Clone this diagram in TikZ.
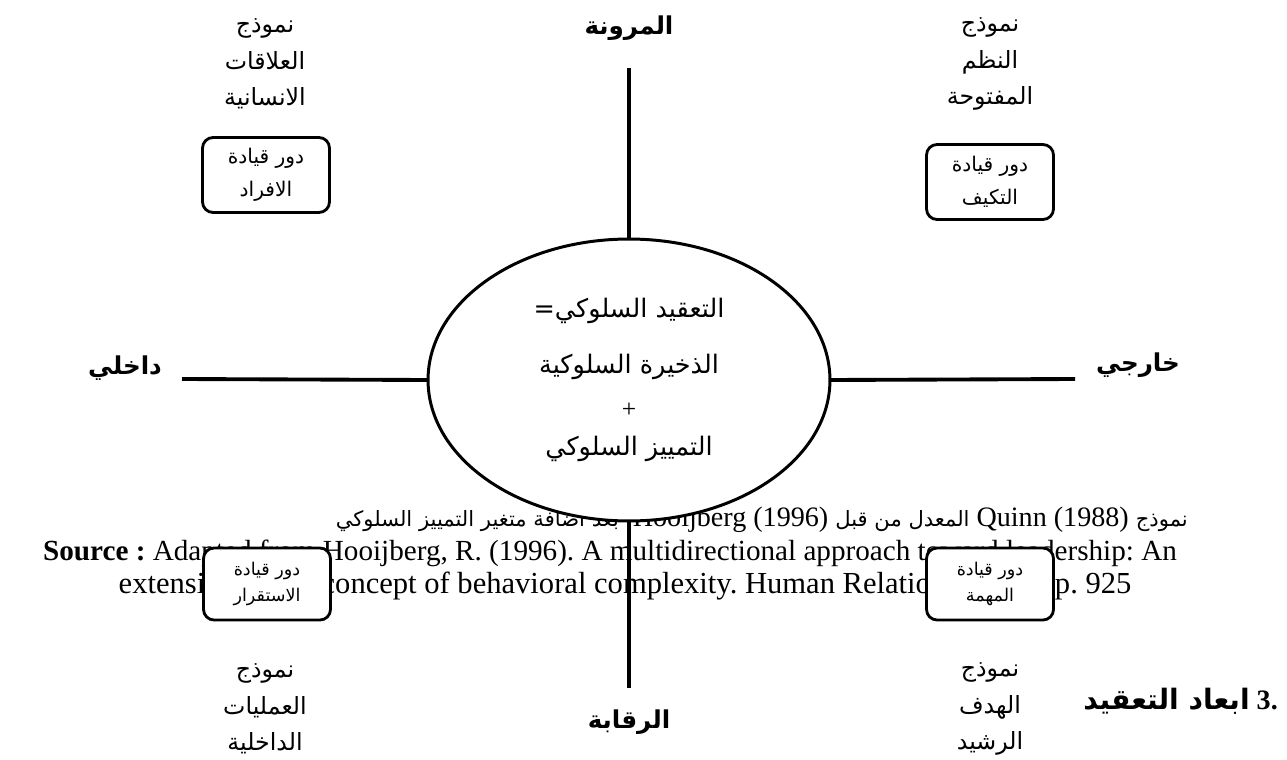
\documentclass[tikz,border=0pt]{standalone}
\usepackage{fontspec}
\setmainfont{Liberation Serif}
\newfontfamily\arabicfont[Script=Arabic]{DejaVu Sans}
\TeXXeTstate=1
\usetikzlibrary{shapes.geometric}
\newcommand{\artxt}[1]{{\arabicfont\beginR #1\endR}}
\newcommand{\capar}{\arabicfont\fontsize{12}{15}\selectfont}
\frenchspacing

\begin{document}
\begin{tikzpicture}[x=0.02cm,y=-0.02cm]
	\tikzstyle{axisline}=[line width=2.2pt]
	\tikzstyle{axislabel}=[font=\fontsize{14}{17}\selectfont\bfseries]
	\tikzstyle{modellabel}=[align=center,font=\fontsize{13.5}{20.7}\selectfont]
	\tikzstyle{rolebox}=[draw,fill=white,rounded corners=6pt,line width=1.6pt,align=center,
	minimum width=2.54cm,minimum height=1.5cm,inner sep=1pt,font=\fontsize{11.5}{19}\selectfont]

	\useasboundingbox (0,0) rectangle (1287,760);

	%% caption and source under the figure
	\node [anchor=east,font=\fontsize{16}{19}\selectfont] (caption) at (1194,520)
	{\beginR{\capar نموذج} \beginL Quinn (1988)\endL{} {\capar المعدل من قبل} \beginL Hooijberg (1996)\endL{}\ \ {\capar بعد اضافة متغير التمييز السلوكي}\endR};
	\node [font=\fontsize{16.6}{19}\selectfont] (source) at (610,553)
	{\textbf{Source :} Adapted from Hooijberg, R. (1996). A multidirectional approach toward leadership: An};
	\node [font=\fontsize{17.4}{19}\selectfont] (source2) at (625,586)
	{extension of the concept of behavioral complexity. Human Relations, 49(7), p. 925};
	\node [anchor=east,font=\fontsize{16}{20}\selectfont\bfseries] (heading) at (1284,701)
	{\beginR 3. {\arabicfont ابعاد التعقيد}\endR};

	%% axes
	\coordinate (flexend) at (629,68);
	\coordinate (ctrlend) at (629,688);
	\coordinate (intend) at (182,379);
	\coordinate (extend) at (1075,379);
	\node [ellipse,minimum width=8.04cm,minimum height=5.64cm] (core) at (629,380) {};
	\draw [axisline] (flexend) -- (core.north);
	\draw [axisline] (core.south) -- (ctrlend);
	\draw [axisline] (intend) -- (core.west);
	\draw [axisline] (core.east) -- (extend);

	\node [ellipse,draw,fill=white,line width=1.7pt,minimum width=8.04cm,minimum height=5.64cm,
	align=center,font=\fontsize{14.5}{22}\selectfont] at (core)
	{\artxt{التعقيد السلوكي=}\\[10pt] \artxt{الذخيرة السلوكية}\\[3pt] +\\ \artxt{التمييز السلوكي}};

	\node [axislabel] (flex) at (629,28) {\artxt{المرونة}};
	\node [axislabel] (ctrl) at (629,722) {\artxt{الرقابة}};
	\node [axislabel] (intl) at (125,368) {\artxt{داخلي}};
	\node [axislabel] (extl) at (1138,365) {\artxt{خارجي}};

	%% models
	\node [modellabel] (human) at (265,64) {\artxt{نموذج}\\ \artxt{العلاقات}\\ \artxt{الانسانية}};
	\node [modellabel] (open) at (990,64) {\artxt{نموذج}\\ \artxt{النظم}\\ \artxt{المفتوحة}};
	\node [modellabel] (process) at (265,709) {\artxt{نموذج}\\ \artxt{العمليات}\\ \artxt{الداخلية}};
	\node [modellabel] (goal) at (990,709) {\artxt{نموذج}\\ \artxt{الهدف}\\ \artxt{الرشيد}};

	%% leadership roles
	\node [rolebox] (people) at (266,175) {\artxt{دور قيادة}\\ \artxt{الافراد}};
	\node [rolebox] (adapt) at (990,182) {\artxt{دور قيادة}\\ \artxt{التكيف}};
	\node [rolebox,minimum height=1.44cm,font=\fontsize{10}{15}\selectfont] (stable) at (267,584) {\artxt{دور قيادة}\\ \artxt{الاستقرار}};
	\node [rolebox,minimum height=1.44cm,font=\fontsize{10}{15}\selectfont] (task) at (990,584) {\artxt{دور قيادة}\\ \artxt{المهمة}};
\end{tikzpicture}
\end{document}
